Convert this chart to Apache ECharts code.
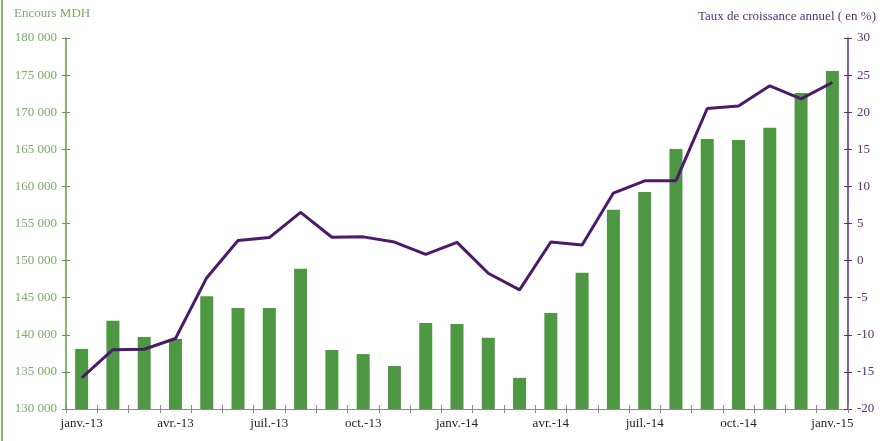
<!DOCTYPE html>
<html>
<head>
<meta charset="utf-8">
<script src="https://cdn.jsdelivr.net/npm/echarts@6/dist/echarts.min.js"></script>
<style>
  html, body { margin: 0; padding: 0; background: #fff; }
  #echart { width: 882px; height: 441px; }
</style>
</head>
<body>
<div id="echart"></div>
<script>
var dom = document.getElementById("echart");
var myChart = echarts.init(dom);

// mois
let months = ['janv.-13', 'févr.-13', 'mars-13', 'avr.-13', 'mai-13', 'juin-13', 'juil.-13', 'août-13', 'sept.-13',
    'oct.-13', 'nov.-13', 'déc.-13', 'janv.-14', 'févr.-14', 'mars-14', 'avr.-14', 'mai-14', 'juin-14', 'juil.-14',
    'août-14', 'sept.-14', 'oct.-14', 'nov.-14', 'déc.-14', 'janv.-15'];
// encours MDH
let encours = [138100, 141900, 139700, 139450, 145200, 143600, 143600, 148900, 137950, 137400, 135800, 141600,
    141450, 139600, 134200, 142950, 148350, 156850, 159250, 165050, 166400, 166250, 167900, 172600, 175550];
// taux de croissance annuel (%)
let taux = [-15.8, -12.0, -11.95, -10.5, -2.3, 2.7, 3.1, 6.5, 3.15, 3.2, 2.5, 0.85, 2.45, -1.7, -3.95, 2.5, 2.1,
    9.1, 10.75, 10.75, 20.5, 20.85, 23.55, 21.8, 24.0];

let leftTicks = [130000, 135000, 140000, 145000, 150000, 155000, 160000, 165000, 170000, 175000, 180000];
let rightTicks = [-20, -15, -10, -5, 0, 5, 10, 15, 20, 25, 30];

var font = 'Liberation Serif';
var green = '#5a9e45';
var purple = '#5b2d7a';

// axe fantome : seulement des graduations vers l'interieur (graduations en croix)
function innerTicks(base, color) {
    return Object.assign({}, base, {
        axisLine: { show: false, onZero: false },
        axisLabel: { show: false },
        splitLine: { show: false },
        axisTick: { show: true, inside: true, length: 4, interval: 0, lineStyle: { color: color } }
    });
}

var xBase = { type: 'category', data: months, boundaryGap: true, position: 'bottom' };
var yLeftBase = { type: 'value', min: leftTicks[0], max: leftTicks[leftTicks.length - 1], interval: 5000, position: 'left' };
var yRightBase = { type: 'value', min: rightTicks[0], max: rightTicks[rightTicks.length - 1], interval: 5, position: 'right' };

var option = {
    animation: false,
    textStyle: { fontFamily: font },
    grid: { left: 66, right: 34, top: 38, bottom: 32 },
    graphic: [
        { type: 'line', shape: { x1: 2, y1: 0, x2: 2, y2: 441 }, style: { stroke: green, lineWidth: 1.5 } },
        { type: 'text', left: 14, top: 7, style: { text: 'Encours MDH', fill: '#76b063', font: '13px ' + font } },
        { type: 'text', right: 6, top: 10, style: { text: 'Taux de croissance annuel ( en %)', fill: purple, font: '13px ' + font } }
    ],
    xAxis: [
        Object.assign({}, xBase, {
            axisLine: { onZero: false, lineStyle: { color: '#8c8c8c', width: 1 } },
            axisTick: { show: true, interval: 0, length: 4, lineStyle: { color: '#8c8c8c' } },
            axisLabel: { interval: 2, color: '#222', fontSize: 13, fontFamily: font, margin: 8 }
        }),
        innerTicks(xBase, '#8c8c8c')
    ],
    yAxis: [
        Object.assign({}, yLeftBase, {
            splitLine: { show: false },
            axisLine: { show: true, lineStyle: { color: green, width: 1.5 } },
            axisTick: { show: true, length: 4, lineStyle: { color: green } },
            axisLabel: {
                color: '#76b063', fontSize: 13, fontFamily: font, margin: 9,
                formatter: function (v) { return String(v).replace(/\B(?=(\d{3})+(?!\d))/g, ' '); }
            }
        }),
        Object.assign({}, yRightBase, {
            splitLine: { show: false },
            axisLine: { show: true, lineStyle: { color: purple, width: 1.5 } },
            axisTick: { show: true, length: 4, lineStyle: { color: purple } },
            axisLabel: { color: purple, fontSize: 13, fontFamily: font, margin: 9 }
        }),
        innerTicks(yLeftBase, green),
        innerTicks(yRightBase, purple)
    ],
    series: [
        {
            type: 'bar',
            xAxisIndex: 0,
            yAxisIndex: 0,
            barWidth: 13,
            itemStyle: { color: '#4f9843' },
            data: encours
        },
        {
            type: 'line',
            xAxisIndex: 0,
            yAxisIndex: 1,
            symbol: 'none',
            lineStyle: { color: '#4b1a6b', width: 3 },
            data: taux
        }
    ]
};

if (option && typeof option === 'object') {
    myChart.setOption(option);
}
</script>
</body>
</html>
